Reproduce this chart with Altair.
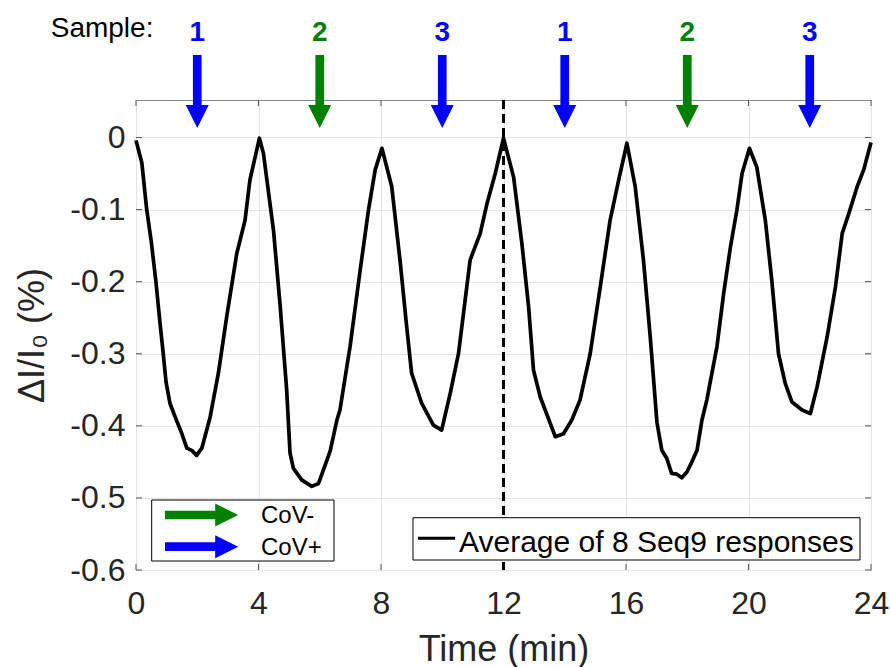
import altair as alt
import pandas as pd

# ---- data ----
time_min = [0, 0.19, 0.35, 0.5, 0.65, 0.79, 0.89, 0.98, 1.11, 1.3, 1.49, 1.66, 1.82, 1.98, 2.15, 2.42, 2.69, 2.96, 3.29, 3.56, 3.72, 4.03,
             4.16, 4.49, 4.71, 4.92, 5.03, 5.14, 5.41, 5.74, 5.96, 6.12, 6.34, 6.56, 6.66, 6.99, 7.32, 7.59, 7.81, 8.03,
             8.35, 8.62, 8.84, 9.0, 9.33, 9.71, 9.98, 10.26, 10.53, 10.91, 11.24, 11.46, 11.73, 12.0,
             12.33, 12.6, 12.82, 12.98, 13.2, 13.53, 13.69, 13.96, 14.23, 14.5, 14.83, 15.16, 15.48, 15.76, 16.03,
             16.3, 16.57, 16.79, 17.01, 17.17, 17.33, 17.49, 17.66, 17.82, 17.99, 18.15, 18.32, 18.48, 18.64, 18.97, 19.19, 19.41, 19.62, 19.79, 20.03,
             20.27, 20.55, 20.76, 20.98, 21.2, 21.42, 21.75, 22.02, 22.24, 22.57, 22.84, 23.06, 23.28, 23.55, 23.76, 24.0]
response = [-0.004, -0.035, -0.1, -0.145, -0.2, -0.26, -0.3, -0.339, -0.369, -0.39, -0.41, -0.431, -0.434, -0.441, -0.431, -0.388, -0.327, -0.249, -0.161, -0.115, -0.059, -0.001,
            -0.022, -0.129, -0.235, -0.35, -0.438, -0.459, -0.475, -0.484, -0.48, -0.461, -0.435, -0.392, -0.378, -0.29, -0.184, -0.101, -0.045, -0.015,
            -0.068, -0.17, -0.263, -0.327, -0.369, -0.399, -0.406, -0.355, -0.3, -0.17, -0.133, -0.092, -0.05, -0.001,
            -0.055, -0.147, -0.235, -0.323, -0.36, -0.397, -0.415, -0.411, -0.392, -0.364, -0.3, -0.207, -0.115, -0.059, -0.008,
            -0.068, -0.17, -0.276, -0.395, -0.434, -0.445, -0.466, -0.467, -0.472, -0.464, -0.45, -0.434, -0.392, -0.364, -0.29, -0.216, -0.152, -0.101, -0.05, -0.015,
            -0.041, -0.115, -0.198, -0.3, -0.341, -0.367, -0.378, -0.383, -0.346, -0.276, -0.207, -0.133, -0.105, -0.068, -0.045, -0.007]

sample_time = [2, 6, 10, 14, 18, 22]
sample_label = ["1", "2", "3", "1", "2", "3"]
sample_class = ["CoV+", "CoV-", "CoV+", "CoV+", "CoV-", "CoV+"]

legend_classes = ["CoV-", "CoV+"]
class_colors = ["#008000", "#0000ff"]

x_ticks = [0, 4, 8, 12, 16, 20, 24]
y_ticks = [-0.6, -0.5, -0.4, -0.3, -0.2, -0.1, 0]
marker_time = [12]
line_legend_label = "Average of 8 Seq9 responses"
x_title = "Time (min)"
y_title = "ΔI/I₀ (%)"

FONT = "Liberation Sans"
TXT = "#262626"
W, H = 735, 470

curve_df = pd.DataFrame({"t": time_min, "v": response})
samples_df = pd.DataFrame({"t": sample_time, "label": sample_label, "cls": sample_class})
one = pd.DataFrame({"k": [0]})

x_scale = alt.Scale(domain=[0, 24], nice=False, zero=False)
y_scale = alt.Scale(domain=[-0.6, 0.052], nice=False, zero=False)
color_scale = alt.Scale(domain=legend_classes, range=class_colors)

x_axis = alt.Axis(values=x_ticks, format="d", labelFontSize=32, labelPadding=43, labelFlush=False,
                  labelBaseline="alphabetic", titleFontSize=36, titleX=W / 2, titleY=90,
                  titleBaseline="alphabetic", titleAlign="center")
y_axis = alt.Axis(values=y_ticks, labelFontSize=32, labelPadding=11, labelFlush=False,
                  labelExpr="datum.value == 0 ? '0' : '-' + format(abs(datum.value), '.1f')",
                  titleFontSize=36, titleX=-93, titleY=H / 2, titleAngle=270,
                  titleBaseline="alphabetic", titleAlign="center")


def X():
    return alt.X("t:Q", scale=x_scale, title=x_title, axis=x_axis)


def Y():
    return alt.Y("v:Q", scale=y_scale, title=y_title, axis=y_axis)


curve = alt.Chart(curve_df).mark_line(color="black", strokeWidth=3.7, strokeJoin="round").encode(
    x=X(), y=Y())

# inner tick marks (MATLAB style, pointing inward, on all four sides)
ytick_df = pd.DataFrame({"v": y_ticks})
xtick_df = pd.DataFrame({"t": x_ticks})
tick_color = "#555555"
yt_left = alt.Chart(ytick_df).mark_rule(color=tick_color, strokeWidth=1).encode(
    y=Y(), x=alt.value(0), x2=alt.value(6))
yt_right = alt.Chart(ytick_df).mark_rule(color=tick_color, strokeWidth=1).encode(
    y=Y(), x=alt.value(W - 6), x2=alt.value(W))
xt_bottom = alt.Chart(xtick_df).mark_rule(color=tick_color, strokeWidth=1).encode(
    x=X(), y=alt.value(H - 6), y2=alt.value(H))
xt_top = alt.Chart(xtick_df).mark_rule(color=tick_color, strokeWidth=1).encode(
    x=X(), y=alt.value(0), y2=alt.value(6))

marker = alt.Chart(pd.DataFrame({"t": marker_time})).mark_rule(
    color="black", strokeWidth=3, strokeDash=[9, 5]).encode(
    x=X(), y=alt.value(0), y2=alt.value(H))

# sample arrows above the plot
shafts = alt.Chart(samples_df).mark_rule(strokeWidth=8.7).encode(
    x=X(), y=alt.value(-45), y2=alt.value(7),
    color=alt.Color("cls:N", scale=color_scale, legend=None))
heads = alt.Chart(samples_df).mark_point(shape="M-1,-1L1,-1L0,1Z", filled=True, size=529, opacity=1,
                                          strokeWidth=0).encode(
    x=X(), y=alt.value(16.5),
    color=alt.Color("cls:N", scale=color_scale, legend=None))
nums = alt.Chart(samples_df).mark_text(font=FONT, fontSize=28, fontWeight="bold", baseline="alphabetic",
                                       align="center").encode(
    x=X(), y=alt.value(-59.3), text="label:N",
    color=alt.Color("cls:N", scale=color_scale, legend=None))
sample_txt = alt.Chart(one).mark_text(text="Sample:", font=FONT, fontSize=28, color="black",
                                      align="left", baseline="alphabetic").encode(
    x=alt.value(-85.3), y=alt.value(-63.3))

# arrow legend (lower left)
leg1_box = alt.Chart(one).mark_rect(fill="white", stroke="black", strokeWidth=1).encode(
    x=alt.value(15.7), x2=alt.value(198), y=alt.value(400), y2=alt.value(461))
leg1_layers = []
for cls, col, yy, base in zip(legend_classes, class_colors, [415, 446.7], [423.3, 455]):
    leg1_layers.append(alt.Chart(one).mark_rule(color=col, strokeWidth=8.7).encode(
        x=alt.value(29), x2=alt.value(81), y=alt.value(yy)))
    leg1_layers.append(alt.Chart(one).mark_point(shape="M-1,-1L1,0L-1,1Z", filled=True, size=529,
                                                  opacity=1, strokeWidth=0, color=col).encode(
        x=alt.value(90.7), y=alt.value(yy)))
    leg1_layers.append(alt.Chart(one).mark_text(text=cls, font=FONT, fontSize=24, color="black",
                                                align="left", baseline="alphabetic").encode(
        x=alt.value(125), y=alt.value(base)))

# line legend (lower right)
leg2_box = alt.Chart(one).mark_rect(fill="white", stroke="black", strokeWidth=1).encode(
    x=alt.value(277), x2=alt.value(724), y=alt.value(417.7), y2=alt.value(460))
leg2_line = alt.Chart(one).mark_rule(color="black", strokeWidth=3).encode(
    x=alt.value(282), x2=alt.value(319), y=alt.value(438.3))
leg2_text = alt.Chart(one).mark_text(text=line_legend_label, font=FONT, fontSize=30, color="black",
                                     align="left", baseline="alphabetic").encode(
    x=alt.value(323), y=alt.value(451.7))

chart = alt.layer(
    curve, yt_left, yt_right, xt_bottom, xt_top, marker,
    leg1_box, *leg1_layers, leg2_box, leg2_line, leg2_text,
    shafts, heads, nums, sample_txt,
).properties(
    width=W, height=H,
    padding={"left": 136, "top": 100, "right": 19, "bottom": 97},
    autosize=alt.AutoSizeParams(type="none"),
    background="white",
).configure_axis(
    domain=False, ticks=False, tickSize=0, grid=True, gridColor="#e3e3e3", gridWidth=1,
    labelFont=FONT, labelColor=TXT, titleFont=FONT, titleColor=TXT, titleFontWeight="normal",
).configure_view(
    stroke="#8a8a8a", strokeWidth=1,
)

chart.save("out.html", embed_options={"renderer": "svg", "actions": False})
